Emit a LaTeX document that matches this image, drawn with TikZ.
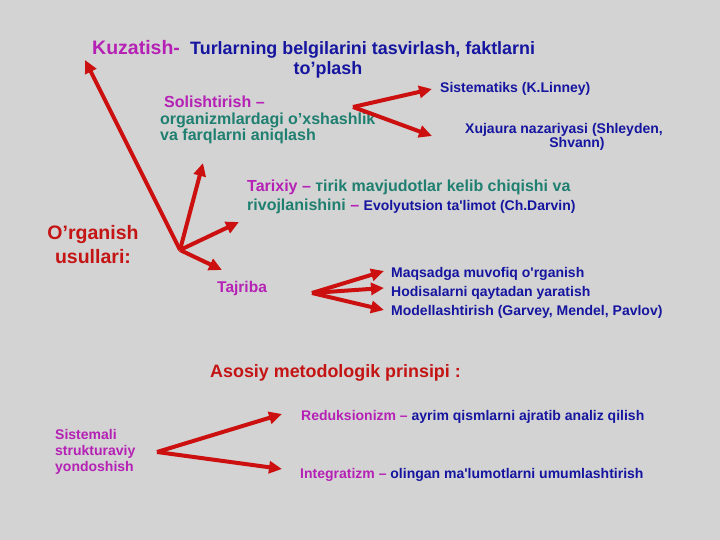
\documentclass[tikz,border=0pt]{standalone}
\usepackage{fontspec}
\setmainfont{Liberation Sans}
\usetikzlibrary{arrows.meta}
\definecolor{usulbg}{HTML}{D3D3D3}
\definecolor{usulred}{HTML}{C41414}
\definecolor{usularrow}{HTML}{CC1010}
\definecolor{usulmag}{HTML}{B520B5}
\definecolor{usulteal}{HTML}{1F7F70}
\definecolor{usulblue}{HTML}{1515A0}

\begin{document}
\begin{tikzpicture}[x=1pt,y=-1pt,
  big/.style={inner sep=0pt,font=\bfseries\fontsize{19.5}{24}\selectfont},
  mid/.style={inner sep=0pt,font=\bfseries\fontsize{17.9}{20}\selectfont},
  sub/.style={inner sep=0pt,font=\bfseries\fontsize{16}{16}\selectfont},
  small/.style={inner sep=0pt,font=\bfseries\fontsize{14}{16}\selectfont},
  arr/.style={draw=usularrow,line width=4pt,-{Triangle[length=13pt,width=12pt]}}]
\fill[usulbg] (0,0) rectangle (720,540);
\useasboundingbox (0,0) rectangle (720,540);

\node[big,text=usulmag,anchor=base west] (kuz) at (92,55) {Kuzatish-};
\node[mid,text=usulblue,anchor=base west] (kuzmatn) at (190,55) {Turlarning belgilarini tasvirlash, faktlarni};
\node[mid,text=usulblue,anchor=base] (toplash) at (328,75) {to’plash};

\node[sub,text=usulmag,anchor=base west] (sol) at (164,108) {Solishtirish –};
\node[sub,text=usulteal,anchor=base west] (sol2) at (160,125) {organizmlardagi o’xshashlik};
\node[sub,text=usulteal,anchor=base west] (sol3) at (160,141) {va farqlarni aniqlash};

\node[small,text=usulblue,anchor=base west] (linney) at (440,93) {Sistematiks (K.Linney)};
\node[small,text=usulblue,anchor=base] (xuj) at (564,134) {Xujaura nazariyasi (Shleyden,};
\node[small,text=usulblue,anchor=base] (shvann) at (577,148) {Shvann)};

\node[sub,text=usulteal,anchor=base west] (tar) at (247,192) {\textcolor{usulmag}{Tarixiy –} тirik mavjudotlar kelib chiqishi va};
\node[sub,text=usulteal,anchor=base west] (tar2) at (247,211) {rivojlanishini \textcolor{usulmag}{–} {\color{usulblue}\fontsize{14}{16}\selectfont Evolyutsion ta\textquotesingle limot (Ch.Darvin)}};

\node[big,text=usulred,anchor=base] (org) at (93,240) {O’rganish};
\node[big,text=usulred,anchor=base] (usul) at (93,263) {usullari:};

\node[sub,text=usulmag,anchor=base west,font=\bfseries\fontsize{15.5}{16}\selectfont] (taj) at (217,292) {Tajriba};
\node[small,text=usulblue,anchor=base west] (maq) at (391,277) {Maqsadga muvofiq o\textquotesingle rganish};
\node[small,text=usulblue,anchor=base west] (hod) at (391,296) {Hodisalarni qaytadan yaratish};
\node[small,text=usulblue,anchor=base west] (mod) at (391,315) {Modellashtirish (Garvey, Mendel, Pavlov)};

\node[mid,text=usulred,anchor=base west] (asosiy) at (210,377) {Asosiy metodologik prinsipi :};

\node[small,text=usulmag,anchor=base west] (sis) at (55,439) {Sistemali};
\node[small,text=usulmag,anchor=base west] (sis2) at (55,455) {strukturaviy};
\node[small,text=usulmag,anchor=base west] (sis3) at (55,471) {yondoshish};
\node[small,text=usulblue,anchor=base west] (red) at (301,420) {\textcolor{usulmag}{Reduksionizm –} ayrim qismlarni ajratib analiz qilish};
\node[small,text=usulblue,anchor=base west] (int) at (300,478) {\textcolor{usulmag}{Integratizm –} olingan ma\textquotesingle lumotlarni umumlashtirish};

% arrows
\coordinate (hub) at (180,250);
\coordinate (kuztip) at (85,60);
\coordinate (soltip) at (203,163);
\coordinate (tartip) at (239,222);
\coordinate (tajtip) at (222,270);
\draw[arr] (hub) -- (kuztip);
\draw[arr] (hub) -- (soltip);
\draw[arr] (hub) -- (tartip);
\draw[arr] (hub) -- (tajtip);

\coordinate (solhub) at (353,107);
\coordinate (lintip) at (432,89);
\coordinate (xujtip) at (432,136);
\draw[arr] (solhub) -- (lintip);
\draw[arr] (solhub) -- (xujtip);

\coordinate (tajhub) at (312,293);
\coordinate (maqtip) at (384,271);
\coordinate (hodtip) at (384,288);
\coordinate (modtip) at (384,310);
\draw[arr] (tajhub) -- (maqtip);
\draw[arr] (tajhub) -- (hodtip);
\draw[arr] (tajhub) -- (modtip);

\coordinate (sishub) at (157,452);
\coordinate (redtip) at (282,414);
\coordinate (inttip) at (282,469);
\draw[arr] (sishub) -- (redtip);
\draw[arr] (sishub) -- (inttip);
\end{tikzpicture}
\end{document}
